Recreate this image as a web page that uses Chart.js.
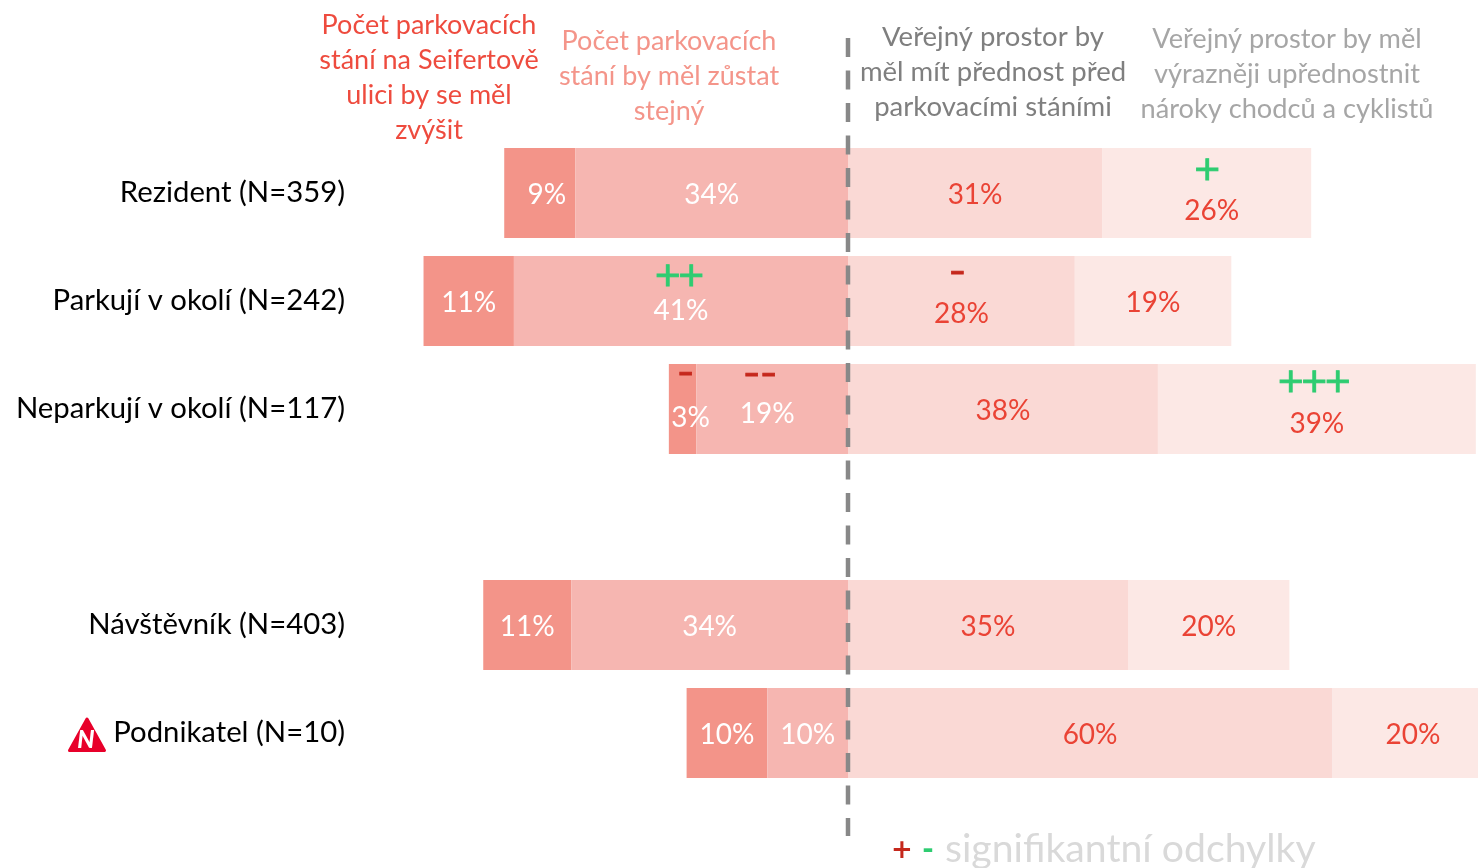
<!DOCTYPE html>
<html><head><meta charset="utf-8">
<style>html,body{margin:0;padding:0;background:#fff;overflow:hidden}canvas{display:block}</style>
<script src="https://cdn.jsdelivr.net/npm/chart.js@4"></script>
</head><body><canvas id="c" width="1478" height="868"></canvas>
<script>
const categories = ['Rezident (N=359)','Parkují v okolí (N=242)','Neparkují v okolí (N=117)','','Návštěvník (N=403)','Podnikatel (N=10)'];
const increase = [8.8, 11.2, 3.4, null, 10.9, 10];
const same     = [33.8, 41.4, 18.8, null, 34.3, 10];
const priority = [31.5, 28.1, 38.4, null, 34.7, 60];
const stronger = [25.9, 19.4, 39.4, null, 20, 20];
const shownIncrease = ['9%','11%','3%','','11%','10%'];
const shownSame     = ['34%','41%','19%','','34%','10%'];
const shownPriority = ['31%','28%','38%','','35%','60%'];
const shownStronger = ['26%','19%','39%','','20%','20%'];
const marksIncrease = ['','','-','','',''];
const marksSame     = ['','++','--','','',''];
const marksPriority = ['','-','','','',''];
const marksStronger = ['+','','+++','','',''];
const headerIncrease = ['Počet parkovacích','stání na Seifertově','ulici by se měl','zvýšit'];
const headerSame     = ['Počet parkovacích','stání by měl zůstat','stejný'];
const headerPriority = ['Veřejný prostor by','měl mít přednost před','parkovacími stáními'];
const headerStronger = ['Veřejný prostor by měl','výrazněji upřednostnit','nároky chodců a cyklistů'];
const noteText = 'signifikantní odchylky';

const FONT = 'Lato, Carlito, sans-serif';
// dataset order runs outward from zero: same, increase, priority, stronger
const C = {seg:['#f6b6b1','#f39489','#fad9d5','#fce8e5'],
  lab:['#ffffff','#ffffff','#ea4335','#ea4335'],
  green:'#2ecc71', red:'#c5281c', dash:'#888888', note:'#d9d9d9', icon:'#e8002a'};

const series = [same,increase,priority,stronger];
const sign = [-1,-1,1,1];
const shown = [shownSame, shownIncrease, shownPriority, shownStronger];
const marks = [marksSame, marksIncrease, marksPriority, marksStronger];
const headers = [headerIncrease, headerSame, headerPriority, headerStronger];
const headColors = ['#ee4b3e','#f4958a','#7f7f7f','#a6a6a6'];
const headSizes = [27,27,27.5,27.2];

// layout of annotation text (pixel nudges relative to the bar centres)
const nudge = {
  '0,1':[7,2],'0,3':[5,18],
  '1,0':[0,10],'1,2':[0,13],
  '2,1':[8,9],'2,0':[-5,5],'2,2':[0,2],'2,3':[0,15]
};
const markPos = {'0,3':[0,-22],'1,0':[-2,-24],'1,2':[-4,-29],'2,1':[3,-36],'2,0':[-12,-35],'2,3':[-3,-26]};
const headPos = [[429,25],[669,41],[993,37],[1287,39]];

function txt(ctx,s,x,y,font,col,align){ctx.font=font;ctx.fillStyle=col;ctx.textAlign=align||'center';ctx.textBaseline='middle';ctx.fillText(s,x,y);}

const overlay = {
  id:'overlay',
  afterDraw(chart){
    const {ctx,scales:{x}} = chart;
    ctx.save();
    chart.data.datasets.forEach((ds,di)=>{
      chart.getDatasetMeta(di).data.forEach((bar,ri)=>{
        if(!shown[di][ri]) return;
        const n = nudge[ri+','+di] || [0,2];
        const mid = (bar.x+bar.base)/2;
        txt(ctx,shown[di][ri],mid+n[0],bar.y+n[1],'28px '+FONT,C.lab[di]);
        const m = marks[di][ri];
        if(m){
          const p = markPos[ri+','+di]||[0,-20];
          const cx=mid+p[0], cy=bar.y+p[1];
          if(m[0]==='+'){
            ctx.letterSpacing='-5px';
            txt(ctx,m,cx-2,cy,'34px "DejaVu Sans"',C.green);
            ctx.strokeStyle=C.green;ctx.lineWidth=1;ctx.strokeText(m,cx-2,cy);
            ctx.letterSpacing='0px';
          } else {
            ctx.letterSpacing='0px';
            const t=m.replace(/-/g,'–');
            txt(ctx,t,cx,cy,'900 29px '+FONT,C.red);
            ctx.strokeStyle=C.red;ctx.lineWidth=0.8;ctx.strokeText(t,cx,cy);
          }
        }
      });
    });
    // zero reference line
    const zx = x.getPixelForValue(0);
    ctx.strokeStyle=C.dash;ctx.lineWidth=4.5;ctx.setLineDash([19,13.5]);
    ctx.beginPath();ctx.moveTo(zx,38);ctx.lineTo(zx,836);ctx.stroke();ctx.setLineDash([]);
    // column headers
    headers.forEach((lines,i)=>lines.forEach((l,k)=>txt(ctx,l,headPos[i][0],headPos[i][1]+k*35,headSizes[i]+'px '+FONT,headColors[i])));
    // note
    txt(ctx,'+',902,851,'700 26px "DejaVu Sans"',C.red);
    txt(ctx,'-',928,850,'900 32px '+FONT,C.green);
    txt(ctx,noteText,945,849,'39.2px '+FONT,C.note,'left');
    // icon for last row
    ctx.fillStyle=C.icon;ctx.strokeStyle=C.icon;ctx.lineWidth=3;ctx.lineJoin='round';
    ctx.beginPath();ctx.moveTo(87,719);ctx.lineTo(104.5,750.5);ctx.lineTo(69.5,750.5);ctx.closePath();ctx.fill();ctx.stroke();
    txt(ctx,'N',86,740,'italic 900 24px '+FONT,'#ffffff');
    ctx.restore();
  }
};

new Chart(document.getElementById('c'),{
  type:'bar',
  data:{labels:categories,datasets:series.map((s,i)=>({
    label:shown[i][0],
    data:s.map(v=>v==null?null:sign[i]*v),
    backgroundColor:C.seg[i],borderWidth:0,stack:'s',
    barPercentage:90/108,categoryPercentage:1
  }))},
  options:{
    indexAxis:'y',responsive:false,animation:false,
    layout:{padding:{top:139,bottom:81,left:0,right:0}},
    plugins:{legend:{display:false},tooltip:{enabled:false}},
    scales:{
      x:{display:false,stacked:true,min:-61.34,max:78.07},
      y:{stacked:true,grid:{display:false},border:{display:false},
        afterFit(s){s.width=353;},
        ticks:{color:'#000000',font:{family:FONT,size:29.3},padding:0,autoSkip:false}}
    }
  },
  plugins:[overlay]
});
</script></body></html>
